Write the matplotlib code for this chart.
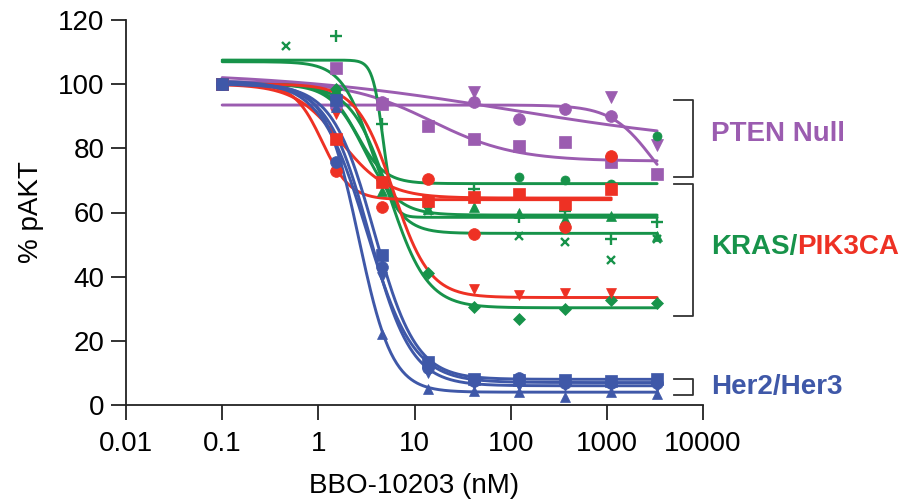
import numpy as np
import matplotlib
matplotlib.use("Agg")
import matplotlib.pyplot as plt

plt.rcParams['font.family'] = ['Liberation Sans', 'DejaVu Sans']

nan = np.nan
# concentrations (nM)
conc = [0.1, 1.52, 4.57, 13.7, 41.2, 123, 370, 1111, 3333]
conc_red = conc[:8]
conc_gx = [0.457, 13.7, 123, 370, 1111, 3333]

# % pAKT values (nan = hidden / not visible)
P_sq = [100, 105, 93.8, 87, 83, 80.8, 81.9, 75.7, 72]
P_v = [100, nan, nan, nan, 97.5, nan, nan, 96, 81]
P_o = [100, 93, 94.5, nan, 94.4, 89.2, 92.2, 90.1, nan]

G_o = [100, 97, nan, nan, nan, 71, 70, 69, 83.8]
G_plus = [nan, 115, 87.5, nan, 67.3, 58.6, 60.5, 51.8, 57.1]
G_x = [112, 60.5, 52.8, 50.8, 45.3, 51.8]
G_tri = [100, 98, 66.7, 61, 61.7, 59.9, 58, 59, 52.7]
G_dia = [100, 98.4, 70, 41.2, 30.6, 26.9, 30, 32.6, 31.9]

R_sq = [100, 83, 69.5, 63.6, 64.7, 65.8, 62.7, 67.4]
R_o = [100, 73, 61.7, 70.4, 53.3, nan, 55.5, 77.6]
R_v = [100, 90.7, nan, nan, 36.2, 34.2, 35, 35, nan]

B_sq = [100, 95, 46.6, 13.5, 8.2, 7.7, 7.7, 7.5, 8.2]
B_o = [100, 75.7, 43, 11.4, 7.5, 8.5, 7, 7, 7]
B_tri = [100, 93, 22, 5.1, 4.5, 4, 2.6, 4, 3.5]
B_v = [100, 94, 40, 10, 6.5, 6, 6, 6, 5.5]

# fitted curve parameters (top, bottom, IC50, Hill) read from the drawn fits
fit_P_sq = [101, 76, 15, 1.0]
fit_P_v = [93.5, 60, 3000, 2.0]
fit_P_o = [104, 80, 100, 0.35]
fit_G_o = [100, 69, 2.5, 3.0]
fit_G_plus = [107.5, 58.5, 4.7, 8.0]
fit_G_x = [107, 53.5, 3.5, 2.8]
fit_G_tri = [100, 59.2, 3.0, 2.5]
fit_G_dia = [100, 30.3, 5.5, 2.2]
fit_R_sq = [100, 64.5, 1.7, 1.8]
fit_R_o = [100, 64, 1.1, 3.0]
fit_R_v = [100, 33.5, 6.0, 2.3]
fit_B_sq = [100, 8, 3.8, 2.0]
fit_B_o = [101, 7, 3.2, 1.8]
fit_B_tri = [100, 4, 2.63, 2.5]
fit_B_v = [100, 6, 3.4, 2.0]

purple = '#9B5CB0'
green = '#17934A'
red = '#EE3124'
blue = '#3F58A8'

fig = plt.figure(figsize=(9.07, 5.03), dpi=100)
ax = fig.add_axes([126/907, 1-405/503, (703-126)/907, (405-20)/503])


def curve(params, x0, x1):
    top, bot, ic, h = params
    xs = np.logspace(np.log10(x0), np.log10(x1), 300)
    return xs, bot + (top - bot) / (1 + (xs / ic) ** h)


series = [
    (conc, P_sq, fit_P_sq, purple, 's', 8.5),
    (conc, P_v, fit_P_v, purple, 'v', 8.5),
    (conc, P_o, fit_P_o, purple, 'o', 8.5),
    (conc, G_o, fit_G_o, green, 'o', 6.5),
    (conc, G_plus, fit_G_plus, green, '+', 9),
    (conc_gx, G_x, fit_G_x, green, 'x', 6),
    (conc, G_tri, fit_G_tri, green, '^', 7.5),
    (conc, G_dia, fit_G_dia, green, 'D', 6.5),
    (conc_red, R_sq, fit_R_sq, red, 's', 8.5),
    (conc_red, R_o, fit_R_o, red, 'o', 8.5),
    (conc, R_v, fit_R_v, red, 'v', 7.5),
    (conc, B_sq, fit_B_sq, blue, 's', 8.5),
    (conc, B_o, fit_B_o, blue, 'o', 8.5),
    (conc, B_tri, fit_B_tri, blue, '^', 7.5),
    (conc, B_v, fit_B_v, blue, 'v', 7.5),
]

for xs, ys, fit, col, mk, ms in series:
    x0 = 0.1
    cx, cy = curve(fit, x0, xs[-1])
    ax.plot(cx, cy, color=col, lw=2.1, solid_capstyle='round', zorder=2)
    ax.plot(xs, ys, linestyle='none', marker=mk, color=col, ms=ms,
            mew=1.7 if mk in '+x' else 0.5, zorder=3)

ax.set_xscale('log')
ax.set_xlim(0.01, 10000)
ax.set_ylim(0, 120)
ax.set_xticks([0.01, 0.1, 1, 10, 100, 1000, 10000])
ax.set_xticklabels(['0.01', '0.1', '1', '10', '100', '1000', '10000'])
ax.xaxis.set_minor_locator(matplotlib.ticker.NullLocator())
ax.set_yticks([0, 20, 40, 60, 80, 100, 120])
ax.set_yticklabels(['0', '20', '40', '60', '80', '100', '120'])
for s in ['top', 'right']:
    ax.spines[s].set_visible(False)
for s in ['left', 'bottom']:
    ax.spines[s].set_linewidth(1.3)
    ax.spines[s].set_color('#222222')
ax.tick_params(axis='y', which='major', labelsize=20, length=10.5,
               width=1.3, color='#222222', pad=5)
ax.tick_params(axis='x', which='major', labelsize=20, length=10.5,
               width=1.3, color='#222222', pad=8)
ax.set_xlabel('BBO-10203 (nM)', fontsize=20, labelpad=12)
ax.set_ylabel('% pAKT', fontsize=20, labelpad=10)


def bracket(ytop, ybot):
    x0, x1 = 674, 693
    X = [x0 / 907, x1 / 907, x1 / 907, x0 / 907]
    Y = [1 - ytop / 503, 1 - ytop / 503, 1 - ybot / 503, 1 - ybot / 503]
    fig.add_artist(plt.Line2D(X, Y, color='#333333', lw=1.3))


bracket(100, 177)
bracket(184, 316)
bracket(379, 395)

fig.text(711 / 907, 1 - 134 / 503, 'PTEN Null', color=purple, fontsize=20,
         fontweight='bold', va='center', ha='left')
t1 = fig.text(711 / 907, 1 - 247 / 503, 'KRAS/', color=green, fontsize=20,
              fontweight='bold', va='center', ha='left')
fig.canvas.draw()
bb = t1.get_window_extent(renderer=fig.canvas.get_renderer())
fig.text(bb.x1 / fig.bbox.width, 1 - 247 / 503, 'PIK3CA', color=red,
         fontsize=20, fontweight='bold', va='center', ha='left')
fig.text(711 / 907, 1 - 387 / 503, 'Her2/Her3', color=blue, fontsize=20,
         fontweight='bold', va='center', ha='left')

fig.savefig('out.png', dpi=100)
